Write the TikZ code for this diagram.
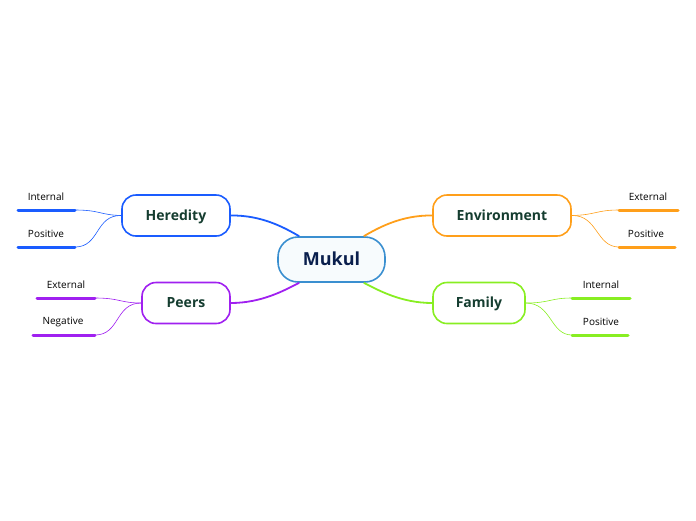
\documentclass[tikz,border=0pt]{standalone}
\usepackage{fontspec}
\setmainfont{Open Sans}
\usetikzlibrary{calc}
\definecolor{cblue}{HTML}{1A5CFF}
\definecolor{cpurple}{HTML}{A020F0}
\definecolor{corange}{HTML}{FF9F1A}
\definecolor{cgreen}{HTML}{88EE22}
\definecolor{cmain}{HTML}{3A8FD0}
\definecolor{ctext}{HTML}{153D30}
\definecolor{cmaintext}{HTML}{0A1F4D}
\tikzset{
  topic/.style={draw, line width=1.6pt, rounded corners=14pt, minimum height=41pt, fill=white, text=ctext, text depth=1pt, font=\fontsize{14}{16}\selectfont\bfseries},
  central/.style={draw=cmain, line width=1.6pt, rounded corners=20pt, minimum height=45pt, minimum width=107pt, fill=cmain!4, text=cmaintext, text depth=1pt, font=\fontsize{18}{20}\selectfont\bfseries},
  leaf/.style={font=\fontsize{10}{12}\selectfont, text=black, inner sep=0pt},
  under/.style={line width=3pt, line cap=round},
  branch/.style={line width=1.8pt},
  twig/.style={line width=0.6pt},
}
\begin{document}
\begin{tikzpicture}[x=1pt,y=-1pt]
\useasboundingbox (0,0) rectangle (696,520);
% central
\node[central] (m) at (331.5,259.5) {Mukul};
% topics
\node[topic, draw=cblue, minimum width=108pt] (her) at (176,215.5) {Heredity};
\node[topic, draw=cpurple, minimum width=88pt] (peer) at (186,303) {Peers};
\node[topic, draw=corange, minimum width=138pt] (env) at (502,215.5) {Environment};
\node[topic, draw=cgreen, minimum width=92pt] (fam) at (479,303) {Family};
% branches
\draw[branch, cblue] (her.east) .. controls (262,215) and (285,228) .. ($(m.north west)+(22,0)$);
\draw[branch, cpurple] (peer.east) .. controls (262,303) and (285,290) .. ($(m.south west)+(22,0)$);
\draw[branch, corange] (env.west) .. controls (401,215) and (378,228) .. ($(m.north east)+(-22,0)$);
\draw[branch, cgreen] (fam.west) .. controls (401,303) and (378,290) .. ($(m.south east)+(-22,0)$);
% heredity leaves
\node[leaf] (h1) at (46,197) {Internal};
\node[leaf] (h2) at (46,234) {Positive};
\coordinate (h1a) at (18,210); \coordinate (h1b) at (75,210);
\coordinate (h2a) at (18,247); \coordinate (h2b) at (75,247);
\draw[under, cblue] (h1a) -- (h1b);
\draw[under, cblue] (h2a) -- (h2b);
\draw[twig, cblue] (h1b) .. controls (100,210) and (100,215) .. (her.west);
\draw[twig, cblue] (h2b) .. controls (100,247) and (95,215) .. (her.west);
% peers leaves
\node[leaf] (p1) at (66,285) {External};
\node[leaf] (p2) at (63,322) {Negative};
\coordinate (p1a) at (37,298); \coordinate (p1b) at (95,298);
\coordinate (p2a) at (33,335); \coordinate (p2b) at (95,335);
\draw[under, cpurple] (p1a) -- (p1b);
\draw[under, cpurple] (p2a) -- (p2b);
\draw[twig, cpurple] (p1b) .. controls (120,298) and (120,303) .. (peer.west);
\draw[twig, cpurple] (p2b) .. controls (120,335) and (115,303) .. (peer.west);
% environment leaves
\node[leaf] (e1) at (648,197) {External};
\node[leaf] (e2) at (646,234) {Positive};
\coordinate (e1a) at (619,210); \coordinate (e1b) at (678,210);
\coordinate (e2a) at (619,247); \coordinate (e2b) at (675,247);
\draw[under, corange] (e1a) -- (e1b);
\draw[under, corange] (e2a) -- (e2b);
\draw[twig, corange] (env.east) .. controls (596,215) and (596,210) .. (e1a);
\draw[twig, corange] (env.east) .. controls (598,215) and (596,247) .. (e2a);
% family leaves
\node[leaf] (f1) at (601,285) {Internal};
\node[leaf] (f2) at (601,322) {Positive};
\coordinate (f1a) at (572,298); \coordinate (f1b) at (630,298);
\coordinate (f2a) at (572,335); \coordinate (f2b) at (628,335);
\draw[under, cgreen] (f1a) -- (f1b);
\draw[under, cgreen] (f2a) -- (f2b);
\draw[twig, cgreen] (fam.east) .. controls (550,303) and (550,298) .. (f1a);
\draw[twig, cgreen] (fam.east) .. controls (552,303) and (550,335) .. (f2a);
\end{tikzpicture}
\end{document}
